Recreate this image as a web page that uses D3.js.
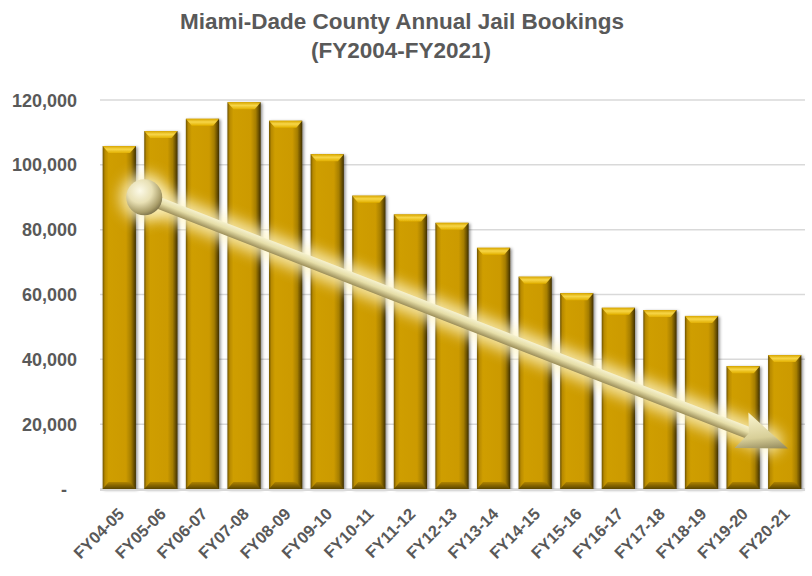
<!DOCTYPE html>
<html><head><meta charset="utf-8">
<script src="https://cdn.jsdelivr.net/npm/d3@7"></script>
<style>
html,body{margin:0;padding:0;background:#fff;}
svg{display:block;}
text{font-family:"Liberation Sans",Arial,sans-serif;font-weight:bold;fill:#595959;}
</style></head>
<body>
<script>
const categories = ["FY04-05","FY05-06","FY06-07","FY07-08","FY08-09","FY09-10","FY10-11","FY11-12","FY12-13","FY13-14","FY14-15","FY15-16","FY16-17","FY17-18","FY18-19","FY19-20","FY20-21"];
const bookings = [105800,110400,114200,119300,113600,103300,90500,84700,82100,74400,65500,60400,55900,55200,53400,37900,41300];
const yTicks = [0,20000,40000,60000,80000,100000,120000];
const titleLines = ["Miami-Dade County Annual Jail Bookings","(FY2004-FY2021)"];
// trend arrow annotation: [category index offset, value]
const trendStart = [0.6, 90000];
const trendEnd = [16.08, 12500];

const W = 812, H = 576;
const svg = d3.select("body").append("svg").attr("width", W).attr("height", H);
const defs = svg.append("defs");

const x = d3.scaleBand().domain(categories).range([98.5, 805.5]).paddingInner(0.2).paddingOuter(0.1);
const y = d3.scaleLinear().domain([0,120000]).range([489,100]);

// title
svg.append("text").attr("x", 402).attr("y", 28.5).attr("text-anchor","middle")
  .style("font-size","22.5px").text(titleLines[0]);
svg.append("text").attr("x", 401).attr("y", 57.5).attr("text-anchor","middle")
  .style("font-size","22.5px").text(titleLines[1]);

// gridlines
svg.append("g").selectAll("line").data(yTicks).join("line")
  .attr("x1", 100).attr("x2", 805)
  .attr("y1", d => y(d)).attr("y2", d => y(d))
  .attr("stroke", "#d9d9d9").attr("stroke-width", 1.5);

// y axis labels
const fmt = d3.format(",");
svg.append("g").selectAll("text").data(yTicks).join("text")
  .attr("x", 77).attr("y", d => y(d) + 6.5).attr("text-anchor","end")
  .style("font-size","18px")
  .text(d => d === 0 ? "-" : fmt(d))
  .attr("dx", d => d === 0 ? -10 : 0);

// gradients
const hg = defs.append("linearGradient").attr("id","barH").attr("x1","0").attr("x2","1").attr("y1","0").attr("y2","0");
[[0,"#6e5300"],[0.07,"#b88a00"],[0.18,"#cf9e00"],[0.7,"#cc9a00"],[0.85,"#a67e00"],[0.94,"#6a5000"],[1,"#3e2f00"]]
  .forEach(([o,c]) => hg.append("stop").attr("offset",o).attr("stop-color",c));
const tg = defs.append("linearGradient").attr("id","barTop").attr("x1","0").attr("x2","0").attr("y1","0").attr("y2","1");
[[0,"#d8a600"],[0.45,"#f7d648"],[1,"#e2b000"]].forEach(([o,c]) => tg.append("stop").attr("offset",o).attr("stop-color",c));
const bg = defs.append("linearGradient").attr("id","barBot").attr("x1","0").attr("x2","0").attr("y1","0").attr("y2","1");
[[0,"#b08400"],[1,"#5a4400"]].forEach(([o,c]) => bg.append("stop").attr("offset",o).attr("stop-color",c));

const shadow = defs.append("filter").attr("id","shadow").attr("x","-20%").attr("y","-10%").attr("width","150%").attr("height","130%");
shadow.append("feDropShadow").attr("dx",1.5).attr("dy",1).attr("stdDeviation",1.8).attr("flood-color","#000").attr("flood-opacity",0.45);

// bars
const bw = x.bandwidth();
const bars = svg.append("g").selectAll("g").data(categories.map((c,i)=>({c, v: bookings[i]}))).join("g")
  .attr("filter","url(#shadow)");
bars.append("rect")
  .attr("x", d => x(d.c)).attr("y", d => y(d.v))
  .attr("width", bw).attr("height", d => y(0) - y(d.v))
  .attr("fill","url(#barH)");
const bev = 7, ins = 6;
bars.append("path")
  .attr("d", d => { const x0 = x(d.c), y0 = y(d.v);
    return `M${x0},${y0}L${x0+bw},${y0}L${x0+bw-ins},${y0+bev}L${x0+ins},${y0+bev}Z`; })
  .attr("fill","url(#barTop)");
bars.append("path")
  .attr("d", d => { const x0 = x(d.c), y0 = y(0);
    return `M${x0},${y0}L${x0+bw},${y0}L${x0+bw-ins},${y0-bev}L${x0+ins},${y0-bev}Z`; })
  .attr("fill","url(#barBot)");

// axis baseline
svg.append("line").attr("x1",100).attr("x2",805).attr("y1",y(0)+1).attr("y2",y(0)+1)
  .attr("stroke","#d9d9d9").attr("stroke-width",2);

// x labels
svg.append("g").selectAll("text").data(categories).join("text")
  .attr("transform", d => `translate(${x(d)+bw/2+6},${y(0)+26}) rotate(-45)`)
  .attr("text-anchor","end")
  .style("font-size","16.5px")
  .text(d => d);

// trend arrow
const px = p => x(categories[0]) + bw/2 + p[0]*x.step();
const sx = px(trendStart), sy = y(trendStart[1]);
const ex = px(trendEnd), ey = y(trendEnd[1]);
const len = Math.hypot(ex-sx, ey-sy);
const dx = (ex-sx)/len, dy = (ey-sy)/len;
const nx = dy, ny = -dx; // normal pointing up
const headLen = 50, headW = 19, notch = 42, shaftW = 6;

const glow = defs.append("filter").attr("id","glow").attr("x","-20%").attr("y","-50%").attr("width","140%").attr("height","200%");
glow.append("feGaussianBlur").attr("stdDeviation",7);
const ag = svg.append("g");
ag.append("line").attr("x1",sx).attr("y1",sy).attr("x2",ex-dx*20).attr("y2",ey-dy*20)
  .attr("stroke","#fff6c8").attr("stroke-width",26).attr("stroke-linecap","round")
  .attr("opacity",0.8).attr("filter","url(#glow)");
ag.append("circle").attr("cx",sx).attr("cy",sy).attr("r",25).attr("fill","#fff6c8").attr("opacity",0.75).attr("filter","url(#glow)");

const sg = defs.append("linearGradient").attr("id","shaft").attr("gradientUnits","userSpaceOnUse")
  .attr("x1", sx + nx*shaftW).attr("y1", sy + ny*shaftW).attr("x2", sx - nx*shaftW).attr("y2", sy - ny*shaftW);
[[0,"#f6f2cf"],[0.45,"#e6dea8"],[1,"#9c8e58"]].forEach(([o,c]) => sg.append("stop").attr("offset",o).attr("stop-color",c));
const hgd = defs.append("linearGradient").attr("id","head").attr("gradientUnits","userSpaceOnUse")
  .attr("x1", ex - dx*40 + nx*headW).attr("y1", ey - dy*40 + ny*headW).attr("x2", ex - dx*20 - nx*headW).attr("y2", ey - dy*20 - ny*headW);
[[0,"#f6f0c8"],[0.5,"#d8cf98"],[1,"#6a6038"]].forEach(([o,c]) => hgd.append("stop").attr("offset",o).attr("stop-color",c));

const bx = ex - dx*notch, by = ey - dy*notch;
ag.append("path")
  .attr("d", `M${sx+nx*shaftW},${sy+ny*shaftW}L${bx+dx*2+nx*shaftW},${by+dy*2+ny*shaftW}L${bx+dx*2-nx*shaftW},${by+dy*2-ny*shaftW}L${sx-nx*shaftW},${sy-ny*shaftW}Z`)
  .attr("fill","url(#shaft)");
const hb = ex - dx*headLen, hby = ey - dy*headLen;
ag.append("path")
  .attr("d", `M${ex},${ey}L${hb+nx*headW},${hby+ny*headW}L${bx},${by}L${hb-nx*headW},${hby-ny*headW}Z`)
  .attr("fill","url(#head)");

const rg = defs.append("radialGradient").attr("id","ball").attr("cx","0.38").attr("cy","0.32").attr("r","0.75");
[[0,"#fcfae8"],[0.45,"#e8e0b4"],[0.8,"#a89c68"],[1,"#6e6440"]].forEach(([o,c]) => rg.append("stop").attr("offset",o).attr("stop-color",c));
ag.append("circle").attr("cx",sx).attr("cy",sy).attr("r",18).attr("fill","url(#ball)");
</script>
</body></html>
